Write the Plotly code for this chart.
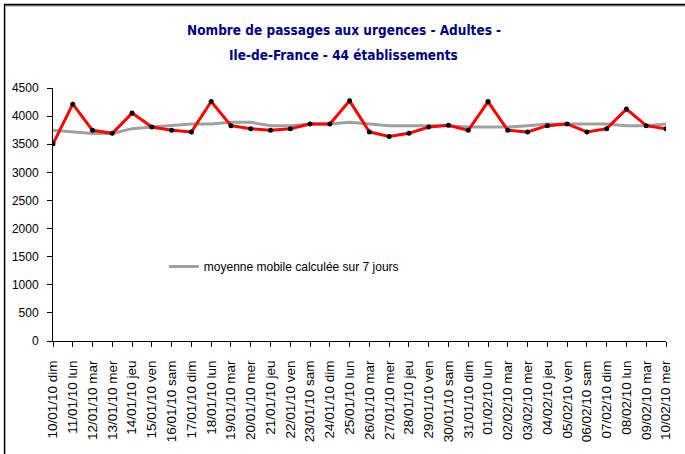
import plotly.graph_objects as go

dates = ["10/01/10 dim", "11/01/10 lun", "12/01/10 mar", "13/01/10 mer", "14/01/10 jeu",
         "15/01/10 ven", "16/01/10 sam", "17/01/10 dim", "18/01/10 lun", "19/01/10 mar",
         "20/01/10 mer", "21/01/10 jeu", "22/01/10 ven", "23/01/10 sam", "24/01/10 dim",
         "25/01/10 lun", "26/01/10 mar", "27/01/10 mer", "28/01/10 jeu", "29/01/10 ven",
         "30/01/10 sam", "31/01/10 dim", "01/02/10 lun", "02/02/10 mar", "03/02/10 mer",
         "04/02/10 jeu", "05/02/10 ven", "06/02/10 sam", "07/02/10 dim", "08/02/10 lun",
         "09/02/10 mar", "10/02/10 mer"]

passages = [3507, 4213, 3747, 3694, 4054, 3807, 3747, 3719, 4259, 3830,
            3777, 3747, 3777, 3860, 3860, 4271, 3719, 3636, 3694, 3807,
            3836, 3747, 4259, 3747, 3719, 3830, 3860, 3719, 3777, 4125,
            3830, 3777]

moyenne_mobile = [3747, 3719, 3690, 3690, 3777, 3807, 3830, 3860, 3860, 3889,
                  3889, 3830, 3830, 3860, 3860, 3889, 3860, 3830, 3830, 3830,
                  3830, 3807, 3807, 3807, 3830, 3860, 3860, 3860, 3860, 3830,
                  3830, 3860]

y_ticks = [0, 500, 1000, 1500, 2000, 2500, 3000, 3500, 4000, 4500]

W, H = 685, 454
L, R, T, B = 52, 19, 88, 111
pw, ph = W - L - R, H - T - B

def px(x):
    return (x - L) / pw

def py(y):
    return (H - B - y) / ph

fig = go.Figure()
fig.add_trace(go.Scatter(
    x=dates, y=moyenne_mobile, mode="lines",
    name="moyenne mobile calculée sur 7 jours",
    line=dict(color="#a0a0a0", width=3), showlegend=True))
fig.add_trace(go.Scatter(
    x=dates, y=passages, mode="lines+markers", name="passages",
    line=dict(color="#ff0000", width=3),
    marker=dict(color="#000000", size=5), showlegend=False))

fig.update_layout(
    width=W, height=H,
    margin=dict(l=L, r=R, t=T, b=B),
    paper_bgcolor="white", plot_bgcolor="white",
    font=dict(family="Liberation Sans, Arial, sans-serif", color="black", size=12),
    legend=dict(x=px(163), y=py(268), xanchor="left", yanchor="middle",
                bgcolor="rgba(0,0,0,0)", font=dict(size=12), itemwidth=30),
    xaxis=dict(type="category", range=[0, 31], tickmode="array",
               tickvals=dates, ticktext=dates, tickangle=-90,
               showline=True, linecolor="black", linewidth=1,
               ticks="outside", ticklen=5, tickcolor="black",
               showgrid=False, zeroline=False, ticklabelstandoff=8,
               tickfont=dict(size=13.5)),
    yaxis=dict(range=[0, 4500], tickmode="array", tickvals=y_ticks,
               showline=True, linecolor="black", linewidth=1,
               ticks="outside", ticklen=5, tickcolor="black",
               showgrid=False, zeroline=False, ticklabelstandoff=6,
               tickfont=dict(size=12)),
)

title_font = dict(family="Liberation Sans Narrow, Arial Narrow, DejaVu Sans Condensed, sans-serif",
                  size=13.5, color="#000080")
fig.add_annotation(text="<b>Nombre de passages aux urgences - Adultes -</b>",
                   xref="paper", yref="paper", x=px(343), y=py(30),
                   xanchor="center", yanchor="middle", showarrow=False, font=title_font)
fig.add_annotation(text="<b>Ile-de-France - 44 établissements</b>",
                   xref="paper", yref="paper", x=px(343), y=py(55),
                   xanchor="center", yanchor="middle", showarrow=False, font=title_font)

# outer chart frame (left and top edges visible)
fig.add_shape(type="line", xref="paper", yref="paper",
              x0=px(3.5), x1=px(3.5), y0=py(3.5), y1=py(470),
              line=dict(color="black", width=1.5))
fig.add_shape(type="line", xref="paper", yref="paper",
              x0=px(3), x1=px(700), y0=py(4), y1=py(4),
              line=dict(color="black", width=2))
fig.add_shape(type="line", xref="paper", yref="paper",
              x0=px(4), x1=px(700), y0=py(5.5), y1=py(5.5),
              line=dict(color="#b0b0b0", width=1))

fig.write_html("out.html", config={"displayModeBar": False},
               post_script="document.body.style.margin='0px';")
